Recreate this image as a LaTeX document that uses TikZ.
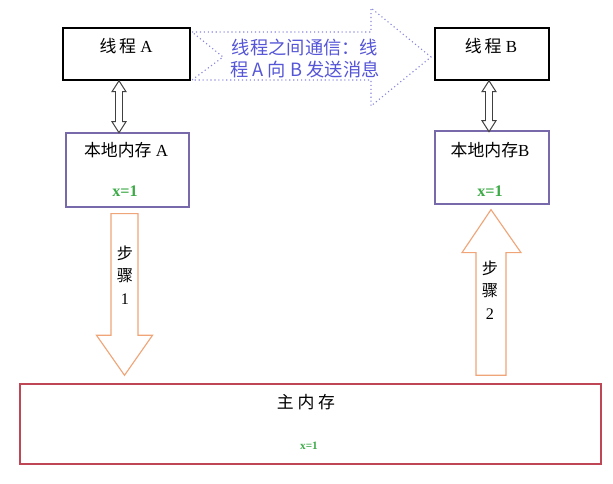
\documentclass[tikz,border=0pt]{standalone}
\usepackage{fontspec}
\setmainfont{Liberation Serif}
\newfontfamily\cjk{Noto Sans CJK SC}
\usepackage{xcolor}
\usetikzlibrary{positioning,calc}

\definecolor{memline}{RGB}{120,105,170}
\definecolor{mainline}{RGB}{190,70,85}
\definecolor{stepline}{RGB}{240,165,120}
\definecolor{msgblue}{RGB}{85,85,215}
\definecolor{msgline}{RGB}{135,135,220}
\definecolor{valgreen}{RGB}{60,170,70}

\tikzset{
  threadbox/.style={draw=black, line width=1pt, minimum height=1.3cm, inner sep=0pt},
  membox/.style={draw=memline, line width=0.9pt, inner sep=0pt},
  mainbox/.style={draw=mainline, line width=1pt, inner sep=0pt},
  boxtext/.style={font=\fontsize{12}{14}\selectfont, inner sep=0pt},
  valtext/.style={font=\fontsize{11.5}{13}\selectfont\bfseries, text=valgreen, inner sep=0pt},
  steptext/.style={font=\fontsize{11.5}{16}\selectfont, align=center, inner sep=0pt},
  hollow/.style={draw=black!75, line width=0.7pt, fill=white, line join=miter},
  steparrow/.style={draw=stepline, line width=0.8pt, fill=white, line join=miter},
  msgarrow/.style={draw=msgline, line width=0.8pt, dotted, line join=miter},
}

\begin{document}
\begin{tikzpicture}[x=0.025cm, y=-0.025cm]
    \useasboundingbox (0,0) rectangle (613,484);

    % Threads
    \node[threadbox, minimum width=3.175cm] (thrA) at (126.5,54) {};
    \node[threadbox, minimum width=2.85cm] (thrB) at (492,54) {};
    \node[boxtext] (thrAtxt) at (126,46) {{\cjk 线\,程} A};
    \node[boxtext] (thrBtxt) at (491,46) {{\cjk 线\,程} B};

    % Local memories
    \node[membox, minimum width=3.075cm, minimum height=1.85cm] (lmA) at (127.5,170) {};
    \node[membox, minimum width=2.85cm, minimum height=1.825cm] (lmB) at (492,167.5) {};
    \node[boxtext] (lmAtxt) at (126,150) {{\cjk 本地内存} A};
    \node[boxtext] (lmBtxt) at (490,150) {{\cjk 本地内存}B};
    \node[valtext] (lmAval) at (125,191) {x=1};
    \node[valtext] (lmBval) at (490,191) {x=1};

    % Main memory
    \node[mainbox, minimum width=14.525cm, minimum height=2cm] (main) at (310.5,424) {};
    \node[boxtext, font=\fontsize{12}{14}\selectfont\cjk] (maintxt) at (306,402) {主\ 内\ 存};
    \node[valtext, font=\fontsize{8}{9}\selectfont\bfseries] (mainval) at (309,446) {x=1};

    % Thread <-> local memory
    \coordinate (dAt) at ($(thrA.south)+(-7.5,0)$);
    \coordinate (dBt) at ($(thrB.south)+(-3,0)$);
    \draw[hollow] (dAt) -- ++(7,11) -- ++(-3.5,0) -- ++(0,30) -- ++(3.5,0)
        -- ++(-7,11) -- ++(-7,-11) -- ++(3.5,0) -- ++(0,-30) -- ++(-3.5,0) -- cycle;
    \draw[hollow] (dBt) -- ++(7,11) -- ++(-3.5,0) -- ++(0,29) -- ++(3.5,0)
        -- ++(-7,11) -- ++(-7,-11) -- ++(3.5,0) -- ++(0,-29) -- ++(-3.5,0) -- cycle;

    % Message from thread A to thread B
    \draw[msgarrow] (192,32) -- (371,32) -- (371,8) -- (431,57) -- (371,106)
        -- (371,80) -- (192,80) -- (223,57) -- cycle;
    \node[font=\fontsize{13}{15.6}\selectfont\cjk, text=msgblue, align=center, inner sep=0pt]
        (msgtxt) at (305,59) {线程之间通信：线\\程 A 向 B 发送消息};

    % Step 1: local memory A -> main memory
    \coordinate (s1top) at ($(lmA.south)+(-3,6)$);
    \coordinate (s1tip) at ($(main.north -| s1top)+(0,-8)$);
    \draw[steparrow] ($(s1top)+(-13.5,0)$) -- ($(s1top)+(13.5,0)$) -- ($(s1tip)+(13.5,-40)$)
        -- ($(s1tip)+(28,-40)$) -- (s1tip) -- ($(s1tip)+(-28,-40)$) -- ($(s1tip)+(-13.5,-40)$) -- cycle;
    \node[steptext] (s1txt) at (125,275) {{\cjk 步}\\{\cjk 骤}\\1};

    % Step 2: main memory -> local memory B
    \coordinate (s2tip) at ($(lmB.south)+(-1,5)$);
    \coordinate (s2bot) at ($(main.north -| s2tip)+(0,-8)$);
    \draw[steparrow] ($(s2bot)+(-15,0)$) -- ($(s2bot)+(15,0)$) -- ($(s2tip)+(15,43)$)
        -- ($(s2tip)+(30,43)$) -- (s2tip) -- ($(s2tip)+(-29,43)$) -- ($(s2tip)+(-15,43)$) -- cycle;
    \node[steptext] (s2txt) at (490,290) {{\cjk 步}\\{\cjk 骤}\\2};
\end{tikzpicture}
\end{document}
